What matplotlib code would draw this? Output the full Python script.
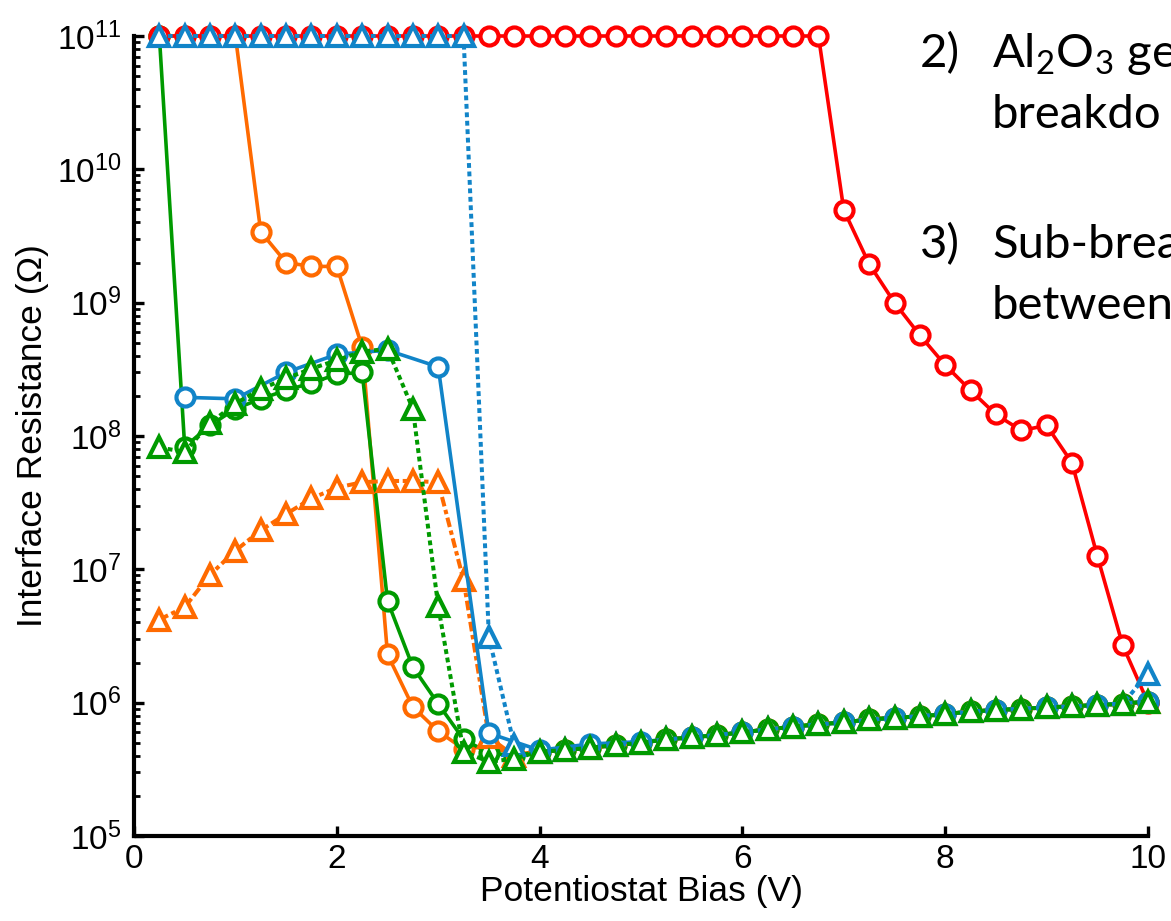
import numpy as np
import matplotlib
matplotlib.use("Agg")
from matplotlib import pyplot as plt
from matplotlib.ticker import LogLocator, LogFormatterSciNotation

plt.rcParams["font.family"] = ["Liberation Sans", "DejaVu Sans"]
plt.rcParams["mathtext.default"] = "regular"

# bias steps (V)
bias = [0.25, 0.5, 0.75, 1.0, 1.25, 1.5, 1.75, 2.0, 2.25, 2.5, 2.75, 3.0, 3.25, 3.5,
        3.75, 4.0, 4.25, 4.5, 4.75, 5.0, 5.25, 5.5, 5.75, 6.0, 6.25, 6.5, 6.75, 7.0,
        7.25, 7.5, 7.75, 8.0, 8.25, 8.5, 8.75, 9.0, 9.25, 9.5, 9.75, 10.0]
bias_half = [0.5, 1.0, 1.5, 2.0, 2.5, 3.0, 3.5, 4.0, 4.5, 5.0, 5.5, 6.0, 6.5, 7.0,
             7.5, 8.0, 8.5, 9.0, 9.5, 10.0]

# interface resistance (ohm)
red_circ = [1e11] * 27 + [4.95e9, 1.95e9, 1.0e9, 5.7e8, 3.4e8, 2.2e8, 1.45e8, 1.1e8,
                          1.2e8, 6.3e7, 1.26e7, 2.7e6, 1.0e6]
orange_circ = [1e11, 1e11, 1e11, 1e11, 3.4e9, 2.0e9, 1.87e9, 1.87e9, 4.65e8, 2.3e6,
               9.3e5, 6.1e5, 4.5e5, 4.7e5, 4.1e5, 4.3e5, 4.4e5, 4.6e5, 4.8e5, 5.0e5,
               5.3e5, 5.5e5, 5.7e5, 6.0e5, 6.3e5, 6.6e5, 6.9e5, 7.1e5, 7.5e5, 7.7e5,
               7.9e5, 8.2e5, 8.6e5, 8.8e5, 9.0e5, 9.2e5, 9.4e5, 9.6e5, 9.8e5, 1.02e6]
orange_tri = [4.2e6, 5.2e6, 9.1e6, 1.38e7, 1.96e7, 2.6e7, 3.4e7, 4.1e7, 4.5e7, 4.6e7,
              4.6e7, 4.5e7, 8.3e6, 5.5e5, 4.0e5, 4.3e5, 4.4e5, 4.6e5, 4.8e5, 5.0e5,
              5.3e5, 5.5e5, 5.7e5, 6.0e5, 6.3e5, 6.6e5, 6.9e5, 7.1e5, 7.5e5, 7.7e5,
              7.9e5, 8.2e5, 8.6e5, 8.8e5, 9.0e5, 9.2e5, 9.4e5, 9.6e5, 9.8e5, 1.02e6]
green_circ = [1e11, 8.3e7, 1.2e8, 1.6e8, 1.9e8, 2.2e8, 2.5e8, 2.9e8, 3.0e8, 5.8e6,
              1.85e6, 9.8e5, 5.3e5, 4.2e5, 4.0e5, 4.3e5, 4.4e5, 4.6e5, 4.8e5, 5.0e5,
              5.3e5, 5.5e5, 5.7e5, 6.0e5, 6.3e5, 6.6e5, 6.9e5, 7.1e5, 7.5e5, 7.7e5,
              7.9e5, 8.2e5, 8.6e5, 8.8e5, 9.0e5, 9.2e5, 9.4e5, 9.6e5, 9.8e5, 1.02e6]
green_tri = [8.2e7, 7.6e7, 1.25e8, 1.75e8, 2.25e8, 2.7e8, 3.2e8, 3.7e8, 4.3e8, 4.5e8,
             1.6e8, 5.3e6, 4.3e5, 3.6e5, 3.8e5, 4.3e5, 4.4e5, 4.6e5, 4.8e5, 5.0e5,
             5.3e5, 5.5e5, 5.7e5, 6.0e5, 6.3e5, 6.6e5, 6.9e5, 7.1e5, 7.5e5, 7.7e5,
             7.9e5, 8.2e5, 8.6e5, 8.8e5, 9.0e5, 9.2e5, 9.4e5, 9.6e5, 9.8e5, 1.02e6]
blue_tri = [1e11] * 13 + [3.1e6, 4.8e5, 4.3e5, 4.4e5, 4.6e5, 4.8e5, 5.0e5,
                          5.3e5, 5.5e5, 5.7e5, 6.0e5, 6.3e5, 6.6e5, 6.9e5, 7.1e5, 7.5e5, 7.7e5,
                          7.9e5, 8.2e5, 8.6e5, 8.8e5, 9.0e5, 9.2e5, 9.4e5, 9.6e5, 9.8e5, 1.65e6]
blue_circ = [1.95e8, 1.9e8, 3.0e8, 4.1e8, 4.4e8, 3.3e8, 5.9e5, 4.4e5, 4.9e5, 5.1e5,
             5.5e5, 6.0e5, 6.6e5, 7.1e5, 7.7e5, 8.2e5, 8.8e5, 9.2e5, 9.6e5, 1.02e6]

RED = "#ff0000"
ORANGE = "#ff6a00"
GREEN = "#009a00"
BLUE = "#1184c8"

fig = plt.figure(figsize=(11.71, 9.21), dpi=100)
ax = fig.add_axes([134 / 1171, 1 - 836 / 921, (1148 - 134) / 1171, (836 - 36) / 921])

mk_c = dict(marker="o", markersize=13, markeredgewidth=3.0, markerfacecolor="white", clip_on=False)
mk_t = dict(marker="^", markersize=14.5, markeredgewidth=3.0, markerfacecolor="white", clip_on=False)
dotted = (0, (1.2, 0.9))
dashdot = (0, (2.4, 0.9, 1.1, 0.9))

ax.plot(bias, orange_circ, "-", color=ORANGE, lw=2.6, zorder=3, **mk_c)
ax.plot(bias, green_circ, "-", color=GREEN, lw=2.6, zorder=4, **mk_c)
ax.plot(bias, red_circ, "-", color=RED, lw=2.6, zorder=5, **mk_c)
ax.plot(bias, orange_tri, ls=dashdot, color=ORANGE, lw=2.9, zorder=6, **mk_t)
ax.plot(bias_half, blue_circ, "-", color=BLUE, lw=2.6, zorder=7, **mk_c)
ax.plot(bias, blue_tri, ls=dotted, color=BLUE, lw=2.9, zorder=8, **mk_t)
ax.plot(bias, green_tri, ls=dotted, color=GREEN, lw=2.9, zorder=9, **mk_t)

ax.set_yscale("log")
ax.set_xlim(0, 10)
ax.set_ylim(1e5, 1e11)
ax.set_xticks([0, 2, 4, 6, 8, 10])
ax.yaxis.set_major_locator(LogLocator(base=10, numticks=10))
ax.yaxis.set_minor_locator(LogLocator(base=10, subs=np.arange(2, 10), numticks=20))
ax.yaxis.set_major_formatter(LogFormatterSciNotation())

for side in ["top", "right"]:
    ax.spines[side].set_visible(False)
for side in ["left", "bottom"]:
    ax.spines[side].set_linewidth(3.0)

ax.tick_params(which="major", direction="in", length=7, width=2.4, labelsize=24)
ax.tick_params(which="minor", direction="in", length=4.5, width=2.0)
ax.tick_params(axis="y", pad=9)
ax.tick_params(axis="x", pad=6)

ax.set_xlabel("Potentiostat Bias (V)", fontsize=25.5, labelpad=0)
ax.set_ylabel("Interface Resistance (Ω)", fontsize=25.5, labelpad=6)

# side notes, running off the right edge as in the reference
note = dict(fontsize=34, family=["Lato", "DejaVu Sans"], color="black")
fig.text(920 / 1171, 1 - 67 / 921, "2)", **note)
fig.text(992 / 1171, 1 - 67 / 921, r"$\mathregular{Al_2O_3}$ ge", **note)
fig.text(992 / 1171, 1 - 128 / 921, "breakdo", **note)
fig.text(920 / 1171, 1 - 258 / 921, "3)", **note)
fig.text(992 / 1171, 1 - 258 / 921, "Sub-brea", **note)
fig.text(992 / 1171, 1 - 319 / 921, "between", **note)

fig.savefig("out.png", dpi=100)
